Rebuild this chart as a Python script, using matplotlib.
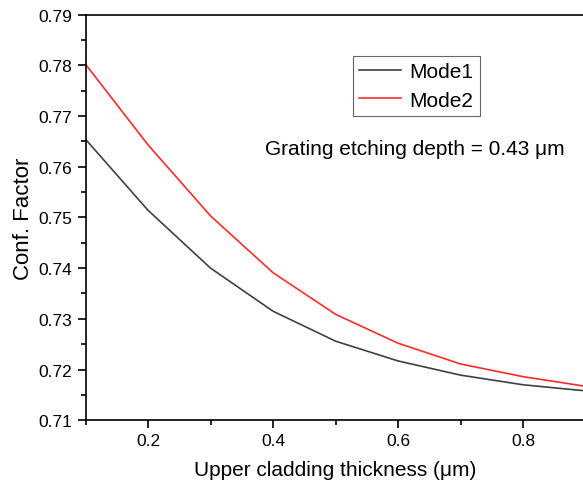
import matplotlib
matplotlib.use("Agg")
import matplotlib.pyplot as plt
from matplotlib.ticker import MultipleLocator

plt.rcParams["font.family"] = ["Liberation Sans", "DejaVu Sans"]

# values
thickness = [0.1, 0.2, 0.3, 0.4, 0.5, 0.6, 0.7, 0.8, 0.9]
mode1 = [0.7654, 0.7514, 0.7400, 0.7315, 0.7256, 0.7217, 0.7189, 0.7170, 0.7158]
mode2 = [0.7802, 0.7643, 0.7503, 0.7391, 0.7309, 0.7252, 0.7211, 0.7186, 0.7167]

fig = plt.figure(figsize=(5.83, 4.89), dpi=100)
ax = fig.add_axes([0.1467, 0.1385, 0.8576, 0.8298])

ax.plot(thickness, mode1, color="#404040", lw=1.2, label="Mode1")
ax.plot(thickness, mode2, color="#ff2a2a", lw=1.2, label="Mode2")

ax.set_xlim(0.1, 0.9)
ax.set_ylim(0.71, 0.79)
ax.xaxis.set_major_locator(MultipleLocator(0.2))
ax.xaxis.set_minor_locator(MultipleLocator(0.1))
ax.yaxis.set_major_locator(MultipleLocator(0.01))
ax.yaxis.set_minor_locator(MultipleLocator(0.005))
ax.xaxis.set_major_formatter(plt.FuncFormatter(lambda v, p: f"{v:.1f}"))
ax.yaxis.set_major_formatter(plt.FuncFormatter(lambda v, p: f"{v:.2f}"))
ax.tick_params(which="major", direction="out", length=6, width=1.2, labelsize=12.5)
ax.tick_params(which="minor", direction="out", length=3.5, width=1.2)
for s in ax.spines.values():
    s.set_linewidth(1.2)

ax.set_xlabel("Upper cladding thickness (μm)", fontsize=15, labelpad=8)
ax.set_ylabel("Conf. Factor", fontsize=16, labelpad=3)

leg = ax.legend(loc="upper left", bbox_to_anchor=(0.535, 0.898), fontsize=15,
                frameon=True, fancybox=False, edgecolor="#404040",
                handlelength=2.0, handletextpad=0.4, borderpad=0.3,
                labelspacing=0.45, borderaxespad=0)
leg.get_frame().set_linewidth(0.8)

ax.text(0.359, 0.671, "Grating etching depth = 0.43 μm", transform=ax.transAxes,
        fontsize=15, va="center", ha="left")

fig.savefig("out.png", dpi=100)
